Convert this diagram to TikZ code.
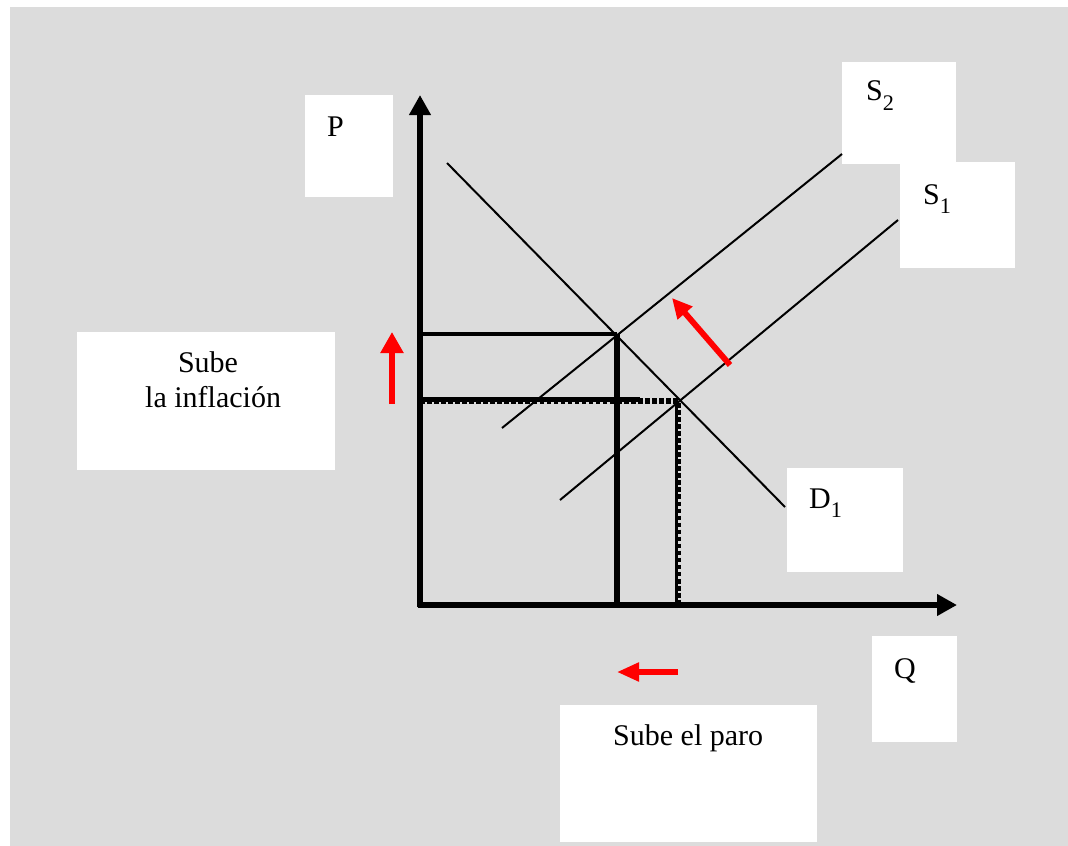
\documentclass[tikz,border=0pt]{standalone}
\usepackage{fontspec}
\setmainfont{Liberation Serif}
\usetikzlibrary{arrows.meta}
\definecolor{bggrey}{RGB}{220,220,220}
\newcommand{\lowidx}[1]{\raisebox{-8.5pt}{\fontsize{19}{19}\selectfont #1}}

\begin{document}
\begin{tikzpicture}[x=0.03cm, y=-0.03cm,
    box/.style={fill=white},
    lbl/.style={font=\fontsize{25.6}{35}\selectfont, inner sep=0pt, anchor=base west},
    axis/.style={line width=4.5pt, -{Triangle[length=0.6cm, width=0.62cm]}},
    curve/.style={line width=1.7pt},
    shiftarrow/.style={red, line width=4.4pt}]
    \useasboundingbox (0,0) rectangle (1068,846);
    \fill[bggrey] (10,7) rectangle (1068,846);

    % white label boxes
    \fill[box] (305,95) rectangle (393,197);
    \fill[box] (842,62) rectangle (956,164);
    \fill[box] (900,162) rectangle (1015,268);
    \fill[box] (787,468) rectangle (903,572);
    \fill[box] (77,332) rectangle (335,470);
    \fill[box] (872,636) rectangle (957,742);
    \fill[box] (560,705) rectangle (817,842);

    \coordinate (O) at (420,605);
    \coordinate (ytip) at (420,95);
    \coordinate (xtip) at (957,605);
    \coordinate (d1a) at (447,163);
    \coordinate (d1b) at (785,507);
    \coordinate (s2a) at (502,428);
    \coordinate (s2b) at (842,154);
    \coordinate (s1a) at (560,500);
    \coordinate (s1b) at (898,220);
    \coordinate (e2) at (617,334);
    \coordinate (e1) at (678,401);
    \coordinate (e1cut) at (640,399.5);

    % curves
    \draw[curve] (d1a) -- (d1b);
    \draw[curve] (s2a) -- (s2b);
    \draw[curve] (s1a) -- (s1b);

    % new equilibrium
    \draw[line width=2.6pt] (e2 -| O) -- (e2);
    \draw[line width=4.8pt] (e2) -- (e2 |- O);

    % old equilibrium
    \draw[line width=3.5pt] (e1cut -| O) -- (e1cut);
    \draw[line width=4.5pt, dash pattern=on 4pt off 2pt] (e1 -| O) -- (e1) -- (e1 |- O);
    \draw[line width=3pt] ([xshift=-0.05cm]e1) -- ([xshift=-0.05cm]e1 |- O);

    % axes
    \draw[axis] ([yshift=-0.07cm]O) -- (ytip);
    \draw[axis] ([xshift=-0.07cm]O) -- (xtip);

    % shifts
    \coordinate (upa) at (392,404);
    \coordinate (upb) at (392,332);
    \coordinate (lefta) at (678,672);
    \coordinate (leftb) at (617,672);
    \coordinate (suppa) at (730,365);
    \coordinate (suppb) at (672,298);
    \draw[shiftarrow, -{Triangle[length=0.63cm, width=0.66cm]}] (upa) -- (upb);
    \draw[shiftarrow, -{Triangle[length=0.66cm, width=0.54cm]}] (lefta) -- (leftb);
    \draw[shiftarrow, line width=5pt, -{Triangle[length=0.6cm, width=0.56cm]}] (suppa) -- (suppb);

    % labels
    \node[lbl] (plbl) at (327,137) {P};
    \node[lbl] (qlbl) at (894,678) {Q};
    \node[lbl] (s2lbl) at (866,101) {S\lowidx{2}};
    \node[lbl] (s1lbl) at (923,204) {S\lowidx{1}};
    \node[lbl] (d1lbl) at (809,508) {D\lowidx{1}};
    \node[lbl, anchor=base] (influp) at (208,372) {Sube};
    \node[lbl] (infllbl) at (145,407) {la inflación};
    \node[lbl] (parolbl) at (613,745) {Sube el paro};
\end{tikzpicture}
\end{document}
